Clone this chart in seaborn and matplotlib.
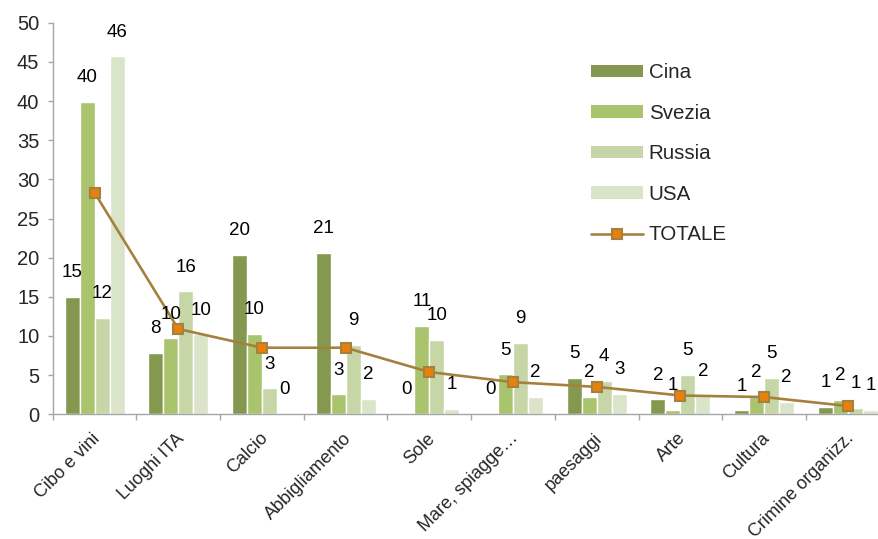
import numpy as np
import pandas as pd
import matplotlib
matplotlib.use("Agg")
import matplotlib.pyplot as plt
from matplotlib.patches import Patch
from matplotlib.lines import Line2D
from matplotlib.ticker import FixedLocator
import seaborn as sns

categories = ["Cibo e vini", "Luoghi ITA", "Calcio", "Abbigliamento", "Sole",
              "Mare, spiagge…", "paesaggi", "Arte", "Cultura", "Crimine organizz."]
countries = ["Cina", "Svezia", "Russia", "USA"]
cina = [15.0, 7.8, 20.4, 20.6, 0.05, 0.05, 4.6, 1.9, 0.5, 0.9]
svezia = [39.9, 9.7, 10.3, 2.55, 11.3, 5.1, 2.25, 0.55, 2.25, 1.8]
russia = [12.3, 15.7, 3.3, 8.9, 9.5, 9.1, 4.25, 5.0, 4.6, 0.85]
usa = [45.7, 10.2, 0.0, 1.95, 0.64, 2.2, 2.6, 2.3, 1.6, 0.55]
totale = [28.3, 10.9, 8.5, 8.5, 5.4, 4.1, 3.5, 2.4, 2.2, 1.06]

colors = ["#84994F", "#A9C46C", "#C6D6A7", "#DAE4C9"]
line_color = "#A5813F"
marker_color = "#E8800C"

sns.set_style("white")
plt.rcParams["font.family"] = ["Liberation Sans", "DejaVu Sans"]

df = pd.DataFrame({
    "categoria": categories * 4,
    "paese": sum([[c] * len(categories) for c in countries], []),
    "valore": cina + svezia + russia + usa,
})

W, H = 879, 539
fig = plt.figure(figsize=(W / 100, H / 100), dpi=100)
ax = fig.add_axes([52.7 / W, 1 - 414.3 / H, 837 / W, 391.6 / H])

sns.barplot(data=df, x="categoria", y="valore", hue="paese", order=categories,
            hue_order=countries, palette=colors, width=0.717, gap=0,
            saturation=1, legend=False, ax=ax, errorbar=None)

sns.pointplot(x=categories, y=totale, order=categories, color=line_color, ax=ax,
              markers="s", linestyles="-", linewidth=1.9, markersize=7,
              markerfacecolor=marker_color, markeredgecolor=line_color,
              markeredgewidth=1.5, errorbar=None)

# value labels
for cont in ax.containers:
    for p in cont.patches:
        v = p.get_height()
        ax.annotate(f"{int(v + 0.5)}", xy=(p.get_x() + p.get_width() / 2, v),
                    xytext=(0, 17.5), textcoords="offset points",
                    ha="center", va="center", fontsize=13.5, color="black",
                    clip_on=False)

ax.set_xlim(-0.5, len(categories) - 0.5)
ax.set_ylim(0, 50)
ax.set_yticks(np.arange(0, 51, 5))
ax.set_xlabel("")
ax.set_ylabel("")

for s in ["top", "right"]:
    ax.spines[s].set_visible(False)
for s in ["left", "bottom"]:
    ax.spines[s].set_color("#A6A6A6")
    ax.spines[s].set_linewidth(1.0)

ax.tick_params(axis="y", direction="out", length=3.6, width=1, color="#A6A6A6",
               labelsize=14.5, pad=6, left=True)
ax.tick_params(axis="x", which="major", length=0, pad=4)
ax.xaxis.set_minor_locator(FixedLocator(np.arange(-0.5, len(categories), 1.0)))
ax.tick_params(axis="x", which="minor", direction="out", length=4.3, width=1,
               color="#A6A6A6", bottom=True)

ax.set_xticks(range(len(categories)))
ax.set_xticklabels(categories, rotation=45, ha="right", va="top",
                   rotation_mode="anchor", fontsize=13)
for lbl in ax.get_xticklabels():
    lbl.set_transform(lbl.get_transform() +
                      matplotlib.transforms.ScaledTranslation(-2.2 / 72, -7.2 / 72, fig.dpi_scale_trans))

handles = [Patch(facecolor=c, edgecolor="none") for c in colors]
handles.append(Line2D([0], [0], color=line_color, lw=1.9, marker="s",
                      markersize=7, markerfacecolor=marker_color,
                      markeredgecolor=line_color, markeredgewidth=1.5))
ax.legend(handles, countries + ["TOTALE"], loc="upper left",
          bbox_to_anchor=(591 / W, 1 - 63 / H), bbox_transform=fig.transFigure,
          frameon=False, fontsize=14.8, handlelength=2.55, handleheight=0.55,
          handletextpad=0.25, labelspacing=1.05, borderpad=0, borderaxespad=0)

fig.savefig("out.png", dpi=100)
